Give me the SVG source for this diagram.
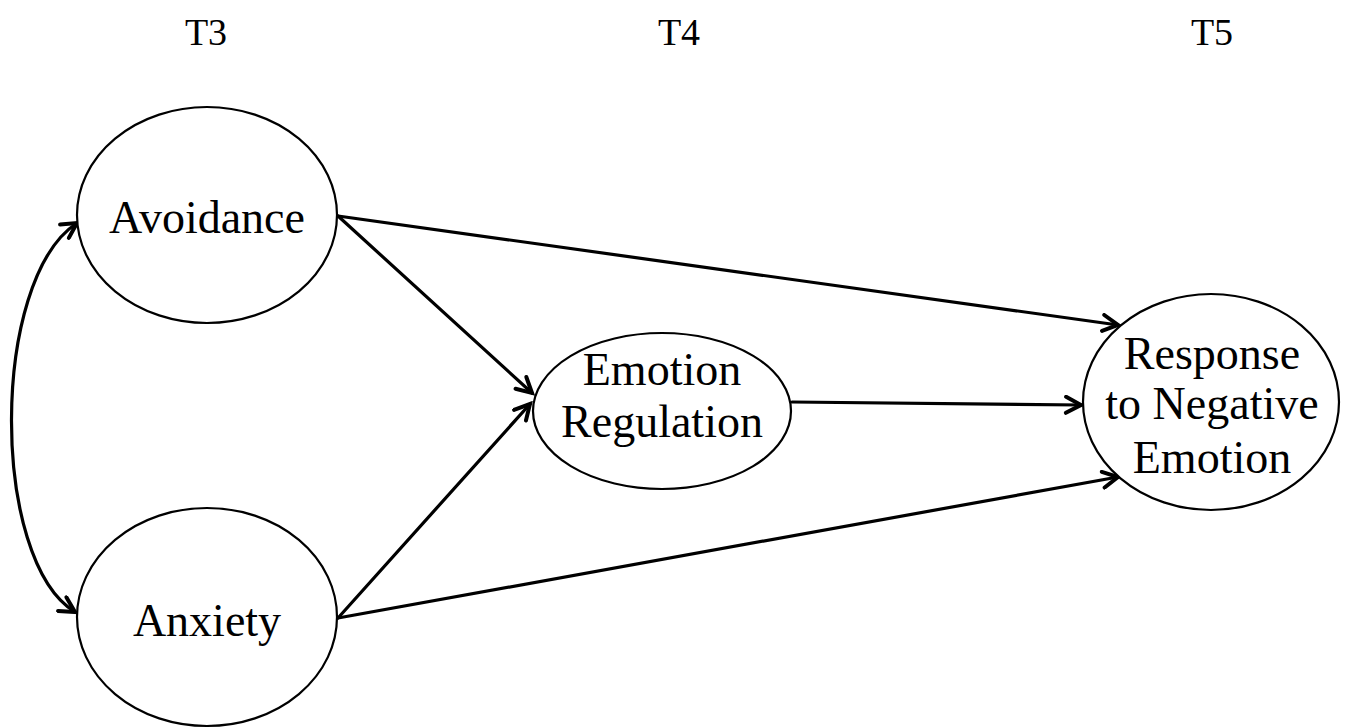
<svg xmlns="http://www.w3.org/2000/svg" width="1350" height="728" viewBox="0 0 1350 728">
<style>
.node ellipse{fill:#fff;stroke:#000;stroke-width:2.2}
text{font-family:"Liberation Serif","Times New Roman",serif;fill:#000;text-anchor:middle}
.lbl{font-size:46px}
.time{font-size:38px}
.edge{fill:none;stroke:#000;stroke-width:3.2;stroke-linecap:round}
</style>
<defs>
<marker id="ah" viewBox="-18 -10 22 20" refX="0" refY="0" markerWidth="22" markerHeight="20" markerUnits="userSpaceOnUse" orient="auto-start-reverse">
<path d="M-15 -8 L0 0 L-15 8" fill="none" stroke="#000" stroke-width="4" stroke-linecap="round" stroke-linejoin="miter"/>
</marker>
</defs>
<g id="time-labels">
<text class="time" x="206" y="45">T3</text>
<text class="time" x="679" y="45">T4</text>
<text class="time" x="1212" y="45">T5</text>
</g>
<g id="connectors">
<path class="edge" d="M77 223 C-10 280,-10 560,75 612" marker-start="url(#ah)" marker-end="url(#ah)"/>
<line class="edge" x1="338" y1="216" x2="1118" y2="325" marker-end="url(#ah)"/>
<line class="edge" x1="338" y1="216" x2="532" y2="393" marker-end="url(#ah)"/>
<line class="edge" x1="338" y1="618" x2="530" y2="404" marker-end="url(#ah)"/>
<line class="edge" x1="338" y1="618" x2="1118" y2="477" marker-end="url(#ah)"/>
<line class="edge" x1="792" y1="402" x2="1081" y2="405" marker-end="url(#ah)"/>
</g>
<g id="avoidance" class="node">
<ellipse cx="207" cy="215" rx="130" ry="108"/>
<text class="lbl" x="207" y="233">Avoidance</text>
</g>
<g id="anxiety" class="node">
<ellipse cx="207" cy="617" rx="130" ry="109"/>
<text class="lbl" x="207" y="636">Anxiety</text>
</g>
<g id="emotion-regulation" class="node">
<ellipse cx="662" cy="411" rx="129" ry="78"/>
<text class="lbl" x="662" y="385">Emotion</text>
<text class="lbl" x="662" y="437">Regulation</text>
</g>
<g id="response" class="node">
<ellipse cx="1211" cy="402" rx="128" ry="108"/>
<text class="lbl" x="1212" y="369">Response</text>
<text class="lbl" x="1212" y="419">to Negative</text>
<text class="lbl" x="1212" y="473">Emotion</text>
</g>
</svg>
